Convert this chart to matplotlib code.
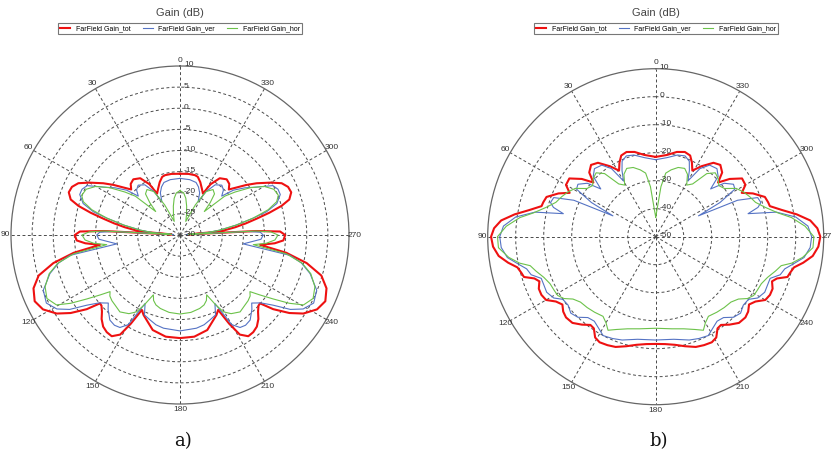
import numpy as np
import matplotlib.pyplot as plt
from matplotlib.transforms import offset_copy

plt.rcParams['font.family'] = ['Liberation Sans', 'DejaVu Sans']

# Far-field gain cuts (dB). Angles in degrees from 0 at the top, counter-clockwise.
# Both patterns are symmetric about the 0-180 axis, so one half is listed.

# a)
ang_a_tot = [0, 8, 14, 17, 21, 25, 29, 31, 35, 40, 44, 47, 50, 53, 56, 60, 63, 66, 69, 72,
             74, 76, 78, 80, 82, 84, 85, 86, 87, 88, 90, 93, 95, 97, 99.5, 102.5, 106, 110,
             114.5, 118.5, 122.5, 125.5, 128.5, 130.5, 132, 134.5, 137, 140, 143, 146, 149,
             151, 153, 155.5, 158.5, 164, 172, 180]
gain_a_tot = [-15.5, -15.4, -15.4, -15.6, -16.6, -17.8, -18.8, -16.0, -13.6, -12.8, -13.2,
              -14.2, -12.5, -10.3, -8.1, -5.2, -3.0, -2.0, -1.8, -2.8, -5.0, -8.2, -11.5,
              -14.2, -16.8, -19.5, -22.0, -28.0, -12.0, -6.3, -5.1, -5.5, -7.5, -10.9, -4.5,
              0.7, 4.8, 6.9, 7.8, 6.9, 4.6, 1.8, -1.8, -5.1, -5.0, -4.1, -2.8, -1.7, -1.2,
              -1.1, -2.5, -6.0, -10.1, -9.2, -8.4, -6.6, -5.7, -5.6]

ang_a_ver = [0, 10, 17, 21, 25, 28.5, 31, 35, 40, 44, 47, 50, 54, 58, 62, 65, 68, 72, 75, 77,
             80, 83, 85, 86, 87, 88, 90, 93, 96, 98, 100.5, 103, 106.5, 112, 117, 121, 124,
             127, 130, 133.5, 136, 140.5, 144, 147, 150, 153, 156, 160.5, 165, 170, 180]
gain_a_ver = [-16.6, -16.7, -17.0, -17.8, -19.0, -21.0, -18.0, -15.5, -14.6, -15.2, -16.5,
              -13.5, -11.0, -8.6, -5.1, -4.4, -4.4, -5.9, -8.8, -12.2, -16.5, -20.5, -23.5,
              -28.5, -14.0, -11.0, -10.3, -10.8, -13.5, -14.9, -3.5, -0.5, 2.1, 4.9, 5.5, 4.0,
              1.5, -2.4, -5.0, -6.6, -5.5, -3.9, -3.6, -3.9, -5.5, -11.8, -9.3, -8.7, -8.0,
              -7.6, -7.3]

ang_a_hor = [0, 5, 9, 13, 18, 23, 27, 31, 36, 40, 43, 46, 49, 52, 56, 60, 64, 68, 71, 74, 77,
             80, 83, 85, 86, 87, 88, 90, 93, 95.5, 97.5, 100, 103, 106.5, 111, 115.5, 119.5,
             122, 124.5, 127, 129, 131, 134, 137, 142, 147, 150.5, 153, 156, 158, 161, 165,
             172, 180]
gain_a_hor = [-19.5, -20.0, -21.2, -23.0, -25.0, -26.5, -22.0, -18.0, -16.7, -17.3, -19.5,
              -22.0, -16.0, -13.5, -10.0, -7.0, -5.3, -4.9, -5.8, -8.3, -12.2, -16.5, -20.5,
              -23.5, -28.0, -12.0, -8.5, -6.8, -7.5, -9.5, -12.5, -4.5, -0.3, 2.3, 4.2, 4.9,
              3.6, 0.5, -3.3, -6.5, -8.7, -8.0, -7.6, -7.4, -6.9, -7.8, -9.1, -11.5, -14.5,
              -13.3, -12.5, -12.0, -11.5, -11.3]

# b)
ang_b_tot = [0, 8, 14, 19, 23, 26, 29, 33, 38, 42, 46, 49, 52, 56, 60, 63, 66, 70, 73, 75,
             78, 81, 84, 87, 90, 93.5, 97, 100, 102.5, 105, 107, 109, 111, 114, 117, 120, 123,
             126, 129, 132, 136, 140, 143.5, 146, 149, 152, 156, 160, 165, 170, 175, 180]
gain_b_tot = [-21.5, -20.5, -18.8, -18.0, -18.5, -20.5, -23.0, -20.0, -16.5, -15.5, -17.0,
              -20.5, -16.5, -12.8, -13.0, -15.5, -12.0, -8.5, -8.0, -7.8, -4.0, 1.0, 5.5, 7.8,
              8.8, 8.2, 6.5, 3.5, 0.6, -0.3, -0.8, -4.2, -5.5, -4.3, -4.2, -4.8, -7.5, -8.8,
              -7.5, -6.9, -7.2, -9.0, -10.8, -10.5, -8.0, -7.3, -7.6, -8.1, -9.5, -10.8,
              -11.5, -11.7]

ang_b_ver = [0, 8, 15, 20, 24, 27, 30, 33, 37, 42, 46, 49, 52, 56, 59, 62, 64, 66, 69, 72,
             74, 76, 78.5, 82, 86, 90, 94, 98, 101, 104, 107, 110, 113, 117, 121, 124, 128,
             132, 136, 140, 144, 148, 152, 157, 162, 170, 180]
gain_b_ver = [-22.5, -21.5, -19.8, -19.3, -20.5, -23.5, -27.0, -21.0, -18.0, -17.3, -19.0,
              -24.0, -19.0, -16.5, -17.0, -24.0, -33.0, -18.0, -11.0, -10.5, -12.0, -16.0,
              -6.0, 0.5, 4.5, 5.7, 5.3, 3.5, 0.3, -2.5, -3.5, -6.5, -6.5, -6.3, -7.5, -10.0,
              -10.3, -9.2, -10.0, -12.3, -12.7, -11.5, -10.0, -10.5, -11.2, -12.8, -13.1]

ang_b_hor = [0, 3, 6, 9, 13, 18, 23, 27, 31, 35, 39, 43, 47, 51, 55, 59, 63, 67, 71, 75, 79,
             82, 86, 90, 94, 98, 101, 103, 106, 110, 114, 118, 121, 124, 127, 131, 136, 141,
             146.5, 150, 153, 157, 163, 170, 180]
gain_b_hor = [-43.0, -40.0, -32.0, -27.0, -25.5, -24.0, -23.5, -25.0, -28.5, -27.0, -21.0,
              -18.8, -19.5, -21.0, -20.0, -16.5, -14.8, -13.5, -12.3, -9.5, -5.5, -1.0, 3.5,
              6.5, 6.3, 3.0, -0.5, -4.0, -5.5, -7.5, -8.7, -9.0, -9.2, -10.5, -13.0, -14.4,
              -14.8, -15.3, -15.9, -14.5, -12.5, -14.0, -15.6, -16.6, -17.3]

labels = ['FarField Gain_tot', 'FarField Gain_ver', 'FarField Gain_hor']
colors = ['#ee1111', '#5573c4', '#6cc24a']
widths = [1.5, 0.8, 0.8]


def mirror(ang, gain):
    ang = np.asarray(ang, dtype=float)
    gain = np.asarray(gain, dtype=float)
    th = np.r_[ang, 360 - ang[::-1][1:]]
    r = np.r_[gain, gain[::-1][1:]]
    return np.deg2rad(th), r


def pattern(fig, rect, rmin, rmax, rstep, curves, cx):
    ax = fig.add_axes(rect, projection='polar')
    ax.set_theta_zero_location('N')
    ax.set_theta_direction(1)
    ax.set_ylim(rmin, rmax)
    ax.set_yticks(np.arange(rmin, rmax, rstep))
    ax.set_yticklabels([])
    ax.set_xticks(np.deg2rad(np.arange(0, 360, 30)))
    ax.set_xticklabels([])
    ax.grid(True, color='#4a4a4a', linestyle=(0, (3, 2.5)), linewidth=0.7)
    ax.spines['polar'].set_color('#666666')
    ax.spines['polar'].set_linewidth(0.9)

    lines = []
    for (ang, gain), c, lw, lab in zip(curves, colors, widths, labels):
        ln, = ax.plot(*mirror(ang, gain), color=c, linewidth=lw, label=lab)
        lines.append(ln)

    # angle labels round the rim
    span = rmax - rmin
    for deg in range(0, 360, 30):
        ax.text(np.deg2rad(deg), rmax + 0.035 * span, str(deg), ha='center', va='center',
                fontsize=6, color='#333333', clip_on=False)
    # gain labels up the 0 deg spoke
    trans = offset_copy(ax.transData, fig=fig, x=4, y=1, units='dots')
    for v in np.arange(rmin, rmax + 1, rstep):
        ax.text(0, v, f'{v:g}', transform=trans, ha='left', va='center', fontsize=6,
                color='#333333')

    fig.text(cx / 831, 1 - 13 / 463, 'Gain (dB)', ha='center', va='center', fontsize=8,
             color='#444444')
    leg = fig.legend(handles=lines, loc='center', bbox_to_anchor=(cx / 831, 1 - 28.5 / 463),
                     ncol=3, fontsize=5, frameon=True, fancybox=False, edgecolor='#555555',
                     handlelength=1.5, handletextpad=0.8, columnspacing=1.7, borderpad=0.35)
    leg.get_frame().set_linewidth(0.8)
    return ax


def main():
    fig = plt.figure(figsize=(8.31, 4.63), dpi=100)

    pattern(fig, [11 / 831, 59 / 463, 338 / 831, 338 / 463], -30, 10, 5,
            [(ang_a_tot, gain_a_tot), (ang_a_ver, gain_a_ver), (ang_a_hor, gain_a_hor)], 180)
    pattern(fig, [487.7 / 831, 58.3 / 463, 336 / 831, 336 / 463], -50, 10, 10,
            [(ang_b_tot, gain_b_tot), (ang_b_ver, gain_b_ver), (ang_b_hor, gain_b_hor)], 656)

    fig.text(183 / 831, 1 - 441 / 463, 'a)', ha='center', va='center', fontsize=13,
             family='DejaVu Serif', color='#111111')
    fig.text(659 / 831, 1 - 441 / 463, 'b)', ha='center', va='center', fontsize=13,
             family='DejaVu Serif', color='#111111')

    fig.savefig('out.png', dpi=100)


if __name__ == '__main__':
    main()
